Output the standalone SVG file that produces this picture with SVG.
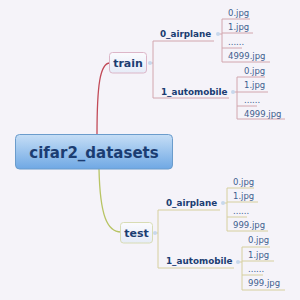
<svg xmlns="http://www.w3.org/2000/svg" width="300" height="300" viewBox="0 0 300 300">
<defs>
<linearGradient id="gRoot" x1="0" y1="0" x2="0" y2="1">
<stop offset="0" stop-color="#c6def6"/>
<stop offset="1" stop-color="#6fa8e4"/>
</linearGradient>
<linearGradient id="gSub" x1="0" y1="0" x2="0" y2="1">
<stop offset="0" stop-color="#fbfbfe"/>
<stop offset="1" stop-color="#e6ecf8"/>
</linearGradient>
<style>
.t{font-family:"DejaVu Sans",Verdana,sans-serif;fill:#1b3d72}
.b{font-weight:bold}
.f{font-family:"DejaVu Sans",Verdana,sans-serif;font-size:8.5px;fill:#3f5f8f}
.lr{fill:none;stroke:#d2a6ae;stroke-width:1}
.lg{fill:none;stroke:#d6cf9e;stroke-width:1}
.dot{fill:#c8d8ec}
</style>
</defs>
<rect width="300" height="300" fill="#f5f3f9"/>
<g id="connectors">
<path d="M97,135 C97,85 100,63 110,63" fill="none" stroke="#c24a58" stroke-width="1.3"/>
<path d="M99,169 C100,215 107,232 121,232" fill="none" stroke="#b8c464" stroke-width="1.3"/>
<!-- train branch -->
<path class="lr" d="M149,63 H153 M214,41 H153 V98 H229"/>
<path class="lr" d="M218,34 H222 M250,19 H222 V62 H270 M222,33 H253 M222,48 H242"/>
<path class="lr" d="M233,92 H237 M265,77 H237 V119 H285 M237,92 H268 M237,106 H257"/>
<!-- test branch -->
<path class="lg" d="M154,233 H158 M220,210 H158 V268 H234"/>
<path class="lg" d="M223,203 H227 M254,188 H227 V231 H268 M227,202 H258 M227,217 H247"/>
<path class="lg" d="M238,262 H242 M270,247 H242 V290 H285 M242,261 H274 M242,275 H263"/>
</g>
<g id="root">
<rect x="15.5" y="134.5" width="157" height="34.5" rx="4" fill="url(#gRoot)" stroke="#6b9ccc"/>
<text class="t b" x="94" y="157.5" font-size="15" text-anchor="middle">cifar2_datasets</text>
</g>
<g id="train">
<rect x="109.5" y="52.5" width="37" height="20.5" rx="3" fill="url(#gSub)" stroke="#dcb6c8"/>
<text class="t b" x="128" y="67" font-size="11" text-anchor="middle">train</text>
<circle class="dot" cx="150" cy="63" r="2"/>
</g>
<g id="test">
<rect x="120.5" y="222.5" width="32" height="20.5" rx="3" fill="url(#gSub)" stroke="#d8dcb4"/>
<text class="t b" x="136.5" y="236.5" font-size="11" text-anchor="middle">test</text>
<circle class="dot" cx="155" cy="233" r="2"/>
</g>
<g id="train_airplane">
<text class="t b" x="160" y="37" font-size="8.8">0_airplane</text>
<circle class="dot" cx="218" cy="34" r="2"/>
</g>
<g id="train_automobile">
<text class="t b" x="161" y="95" font-size="8.8">1_automobile</text>
<circle class="dot" cx="233" cy="92" r="2"/>
</g>
<g id="test_airplane">
<text class="t b" x="166" y="206" font-size="8.8">0_airplane</text>
<circle class="dot" cx="223" cy="203" r="2"/>
</g>
<g id="test_automobile">
<text class="t b" x="166" y="264" font-size="8.8">1_automobile</text>
<circle class="dot" cx="238" cy="262" r="2"/>
</g>
<g id="files">
<text class="f" x="228" y="16">0.jpg</text>
<text class="f" x="228" y="30">1.jpg</text>
<text class="f" x="228" y="45">......</text>
<text class="f" x="228" y="59">4999.jpg</text>
<text class="f" x="244" y="74">0.jpg</text>
<text class="f" x="244" y="88">1.jpg</text>
<text class="f" x="244" y="103">......</text>
<text class="f" x="244" y="117">4999.jpg</text>
<text class="f" x="233" y="185">0.jpg</text>
<text class="f" x="233" y="199">1.jpg</text>
<text class="f" x="233" y="214">......</text>
<text class="f" x="233" y="228">999.jpg</text>
<text class="f" x="248" y="243">0.jpg</text>
<text class="f" x="248" y="258">1.jpg</text>
<text class="f" x="248" y="272">......</text>
<text class="f" x="248" y="286">999.jpg</text>
</g>
</svg>
